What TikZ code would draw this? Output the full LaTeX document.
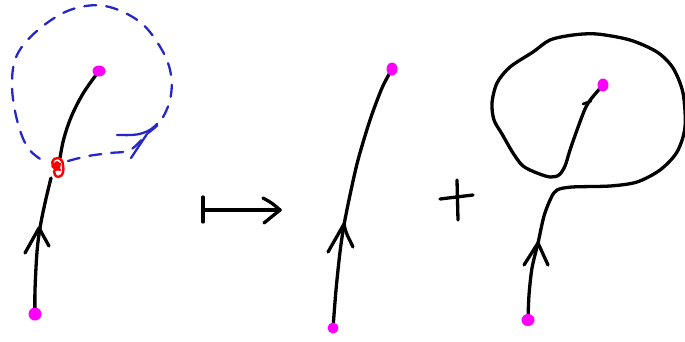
\documentclass[tikz,border=0pt]{standalone}
\begin{document}
\begin{tikzpicture}[x=1pt,y=-1pt,
  ink/.style={line width=3.3pt,line cap=round,line join=round,black},
  bluedash/.style={line width=2.3pt,line cap=round,color=blue!75!black!85!white,dash pattern=on 12pt off 10pt},
  bluesolid/.style={line width=2.3pt,line cap=round,color=blue!75!black!85!white},
  knot/.style={red,line width=2.4pt,line cap=round},
  dot/.style={fill=magenta}]
\definecolor{magenta}{RGB}{255,0,255}
\useasboundingbox (0,0) rectangle (685,341);
% ---------- left figure ----------
\coordinate (Lb) at (35,314);
\coordinate (Lt) at (99,71);
\coordinate (K) at (58,167);
\draw[bluedash] plot[smooth,tension=0.6] coordinates {(68,161) (88,156) (110,153) (130,150) (147,134) (160,122) (170,100) (171,75) (162,50) (140,22) (105,6) (70,10) (38,30) (17,55) (12,85) (17,120) (28,148) (45,162)};
\draw[bluesolid] (117,135) .. controls (130,135) and (145,137) .. (157,124);
\draw[bluesolid] (131,158) -- (147,134);
\draw[ink] plot[smooth,tension=0.6] coordinates {(Lb) (35,290) (37,252) (40,228) (45,203) (51,178)};
\draw[ink] (25,253) -- (39,228) -- (49,246);
\draw[ink] plot[smooth,tension=0.6] coordinates {(60,158) (64,138) (72,115) (84,92) (Lt)};
\draw[knot] (52,163) .. controls (54,155) and (63,157) .. (63,165)
  .. controls (65,175) and (59,180) .. (55,175) .. controls (52,170) and (57,166) .. (60,170);
\draw[knot] (53,163) .. controls (51,169) and (56,170) .. (60,164);
\fill[red] (57,166) ellipse (3.5 and 5);
\fill[dot] (Lb) circle (6.5);
\fill[dot] (Lt) ellipse (6.5 and 5.5);
% ---------- mapsto ----------
\coordinate (Ma) at (204,210);
\coordinate (Mb) at (280,210);
\draw[ink] (203,197) -- (203,222);
\draw[ink] (Ma) -- (Mb);
\draw[ink] (263,198) .. controls (272,203) .. (Mb) .. controls (272,216) .. (264,223);
% ---------- middle figure ----------
\coordinate (Cb) at (333,328);
\coordinate (Ct) at (392,69);
\draw[ink] plot[smooth,tension=0.5] coordinates {(Cb) (336,290) (340,252) (344,225) (350,195) (358,160) (370,120) (382,88) (Ct)};
\draw[ink] (328,252) -- (344,224) .. controls (346,235) and (350,240) .. (353,247);
\fill[dot] (Cb) circle (5.5);
\fill[dot] (Ct) ellipse (5.5 and 6.5);
% ---------- plus ----------
\coordinate (P) at (457,199);
\draw[ink] (440,199) -- (473,195);
\draw[ink] (457,180) -- (458,220);
% ---------- right figure ----------
\coordinate (Rb) at (528,320);
\coordinate (Rt) at (603,85);
\draw[ink] plot[smooth,tension=0.5] coordinates {(Rb) (529,295) (532,268) (538,243) (544,216) (551,198) (557,190) (572,187) (610,186) (637,182) (660,170) (677,152) (685,127) (683,93) (673,68) (657,52) (630,40) (597,34) (573,35) (550,40) (533,52) (510,67) (497,83) (492,103) (494,120) (502,134) (513,153) (523,166) (537,173) (550,177) (559,175) (565,166) (570,150) (577,130) (585,109) (591,99) (Rt)};
\draw[ink] (524,265) -- (538,243) -- (548,265);
\draw[ink,line width=2.6pt] (583,104) -- (591,101);
\fill[dot] (Rb) ellipse (6.5 and 6);
\fill[dot] (Rt) ellipse (5.5 and 6.5);
\end{tikzpicture}
\end{document}
